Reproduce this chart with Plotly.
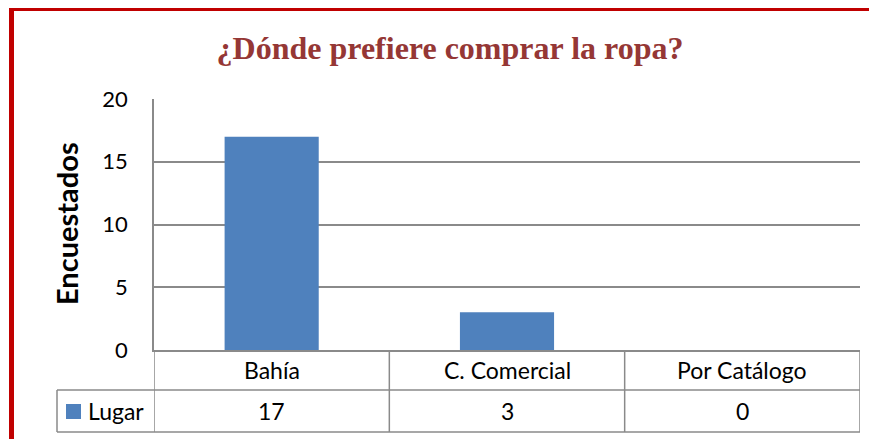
import plotly.graph_objects as go

# Datos del grafico
categorias = ["Bahía", "C. Comercial", "Por Catálogo"]
encuestados = [17, 3, 0]
serie = "Lugar"
titulo = "¿Dónde prefiere comprar la ropa?"
eje_y = "Encuestados"
ticks_y = [0, 5, 10, 15, 20]

azul = "#4f81bd"
gris = "#8a8a8a"
rojo = "#c00000"
fuente = "Lato, 'Open Sans', sans-serif"

# la pagina html tiene 8px de margen en el body
OFF = 8
W, H = 877 - OFF, 439 - OFF
L, R, T, B = 154 - OFF, 17, 99 - OFF, 89
pw, ph = W - L - R, H - T - B


def px_x(p):
    # p en pixeles de la pagina
    return (p - OFF - L) / pw


def px_y(p):
    return (H - B - (p - OFF)) / ph


fig = go.Figure()
fig.add_trace(go.Bar(x=categorias, y=encuestados, name=serie,
                     marker=dict(color=azul, line=dict(width=0)),
                     showlegend=False))

fig.update_layout(
    width=W, height=H,
    margin=dict(l=L, r=R, t=T, b=B),
    paper_bgcolor="white", plot_bgcolor="white",
    bargap=0.6,
    font=dict(family=fuente, size=22, color="black"),
    title=dict(text=titulo, x=(450 - OFF) / W, y=1 - (48 - OFF) / H, xanchor="center", yanchor="middle",
               xref="container", yref="container",
               font=dict(family="'Liberation Serif', 'Times New Roman', serif", size=32,
                         color="#953735", weight="bold")),
)

fig.update_yaxes(range=[0, 20], tickvals=ticks_y, showgrid=True, gridcolor=gris, gridwidth=1.5,
                 showline=True, linecolor=gris, linewidth=1.5, zeroline=False,
                 ticklabelstandoff=20, tickfont=dict(size=22))
fig.update_xaxes(showticklabels=False, showline=True, linecolor=gris, linewidth=1.5,
                 range=[-0.5, len(categorias) - 0.5])

# Eje Y titulo
fig.add_annotation(text=eje_y, textangle=-90, xref="paper", yref="paper",
                   x=px_x(66), y=px_y(224), xanchor="center", yanchor="middle",
                   showarrow=False, font=dict(size=29, weight="bold"))

# Tabla de datos
y1, y2 = px_y(390), px_y(432)
lineas = [
    dict(x0=px_x(57), x1=1, y0=y1, y1=y1),
    dict(x0=px_x(57), x1=1, y0=y2, y1=y2),
    dict(x0=px_x(57), x1=px_x(57), y0=y1, y1=y2),
]
for ln in lineas:
    fig.add_shape(type="line", xref="paper", yref="paper", line=dict(color=gris, width=1.5), **ln)
for i in range(len(categorias) + 1):
    fig.add_shape(type="line", xref="x", yref="paper", x0=i - 0.5, x1=i - 0.5,
                  y0=0, y1=y2, line=dict(color=gris, width=1.5))
for c, v in zip(categorias, encuestados):
    fig.add_annotation(text=c, x=c, xref="x", yref="paper", y=(0 + y1) / 2,
                       showarrow=False, yanchor="middle", font=dict(size=23))
    fig.add_annotation(text=str(v), x=c, xref="x", yref="paper", y=(y1 + y2) / 2,
                       showarrow=False, yanchor="middle", font=dict(size=23))

# Leyenda en la tabla
fig.add_shape(type="rect", xref="paper", yref="paper",
              x0=px_x(66), x1=px_x(81), y0=px_y(404), y1=px_y(419),
              fillcolor=azul, line=dict(width=0))
fig.add_annotation(text=serie, xref="paper", yref="paper", x=px_x(86), y=(y1 + y2) / 2,
                   xanchor="left", yanchor="middle", showarrow=False, font=dict(size=23))

# Borde rojo
fig.add_shape(type="line", xref="paper", yref="paper", x0=px_x(11), x1=px_x(900),
              y0=px_y(9.5), y1=px_y(9.5), line=dict(color=rojo, width=3))
fig.add_shape(type="line", xref="paper", yref="paper", x0=px_x(11.5), x1=px_x(11.5),
              y0=px_y(8), y1=px_y(460), line=dict(color=rojo, width=5))

fig.write_html("out.html")
